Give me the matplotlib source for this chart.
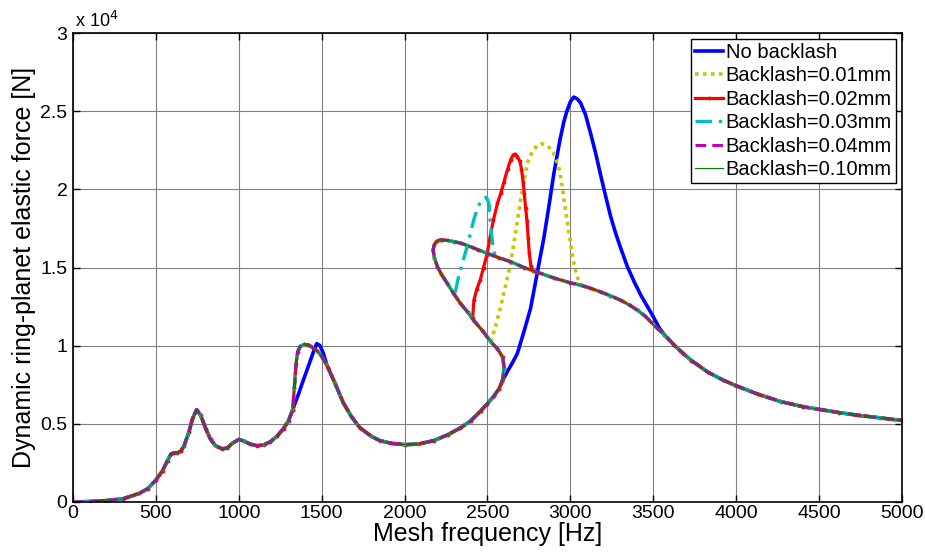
import numpy as np
import matplotlib
matplotlib.use("Agg")
import matplotlib.pyplot as plt

plt.rcParams['font.family'] = ['Liberation Sans', 'DejaVu Sans']

# ---- response data: mesh frequency [Hz] vs. dynamic force [N] ----
# low-frequency part shared by every case
freq_low = [0, 100, 200, 300, 400, 450, 500, 540, 570, 590, 610, 630, 650, 670,
            700, 720, 745, 770, 800, 830, 860, 900, 930, 960, 1000, 1030, 1070,
            1110, 1150, 1190, 1230, 1270, 1300, 1325]
force_low = [0, 30, 90, 200, 550, 850, 1400, 2000, 2650, 3050, 3150, 3150, 3250, 3600,
             4500, 5300, 5900, 5550, 4700, 4000, 3600, 3400, 3450, 3750, 4000, 3900, 3700,
             3600, 3650, 3850, 4200, 4700, 5200, 5900]

# second resonance, with backlash
freq_mid_bl = [1325, 1335, 1345, 1355, 1370, 1395, 1420, 1450, 1480, 1510, 1540]
force_mid_bl = [5900, 7300, 8800, 9600, 9950, 10080, 10050, 9850, 9600, 9150, 8550]

# second resonance, no backlash
freq_mid_nobl = [1325, 1360, 1388, 1420, 1450, 1470, 1490, 1510, 1530, 1540]
force_mid_nobl = [5900, 6900, 7760, 8700, 9600, 10130, 10000, 9500, 8800, 8550]

# valley up to the fold
freq_valley = [1540, 1580, 1630, 1680, 1730, 1800, 1850, 1920, 2000, 2080, 2176,
               2260, 2337, 2400, 2458, 2500, 2539, 2570, 2590]
force_valley = [8550, 7600, 6350, 5450, 4750, 4200, 3930, 3750, 3670, 3700, 3925,
                4300, 4740, 5200, 5815, 6300, 6780, 7250, 7750]

# fold turning back to lower frequency (backlash cases)
freq_fold = [2590, 2600, 2592, 2560, 2520, 2470, 2418, 2380, 2337, 2298, 2256,
             2220, 2198, 2180, 2172, 2178, 2195, 2218]
force_fold = [7750, 8600, 9250, 9800, 10250, 10950, 11600, 12150, 12700, 13300, 14000,
              14600, 15055, 15600, 16100, 16450, 16700, 16770]

# upper branch
freq_upper_a = [2218, 2260, 2300, 2340, 2380, 2440, 2500, 2570, 2640, 2720, 2800,
                2900, 3000, 3061, 3120, 3182, 3240, 3304, 3360, 3405, 3450, 3486, 3520]
force_upper_a = [16770, 16730, 16650, 16550, 16400, 16150, 15900, 15620, 15370, 15000, 14700,
                 14330, 14020, 13870, 13680, 13440, 13200, 12900, 12580, 12260, 11900, 11510, 11150]
freq_upper_b = [3567, 3627, 3680, 3730, 3830, 3920, 4000, 4130, 4270,
                4400, 4500, 4620, 4740, 4870, 5000]
force_upper_b = [10700, 10020, 9500, 9050, 8300, 7800, 7435, 6900, 6420,
                 6100, 5925, 5720, 5540, 5380, 5215]

# main resonance without backlash
freq_peak_nobl = [2590, 2620, 2650, 2680, 2720, 2760, 2800, 2840, 2870, 2900, 2937,
                  2960, 2978, 3000, 3020, 3040, 3061, 3091, 3121, 3152, 3182, 3213,
                  3243, 3273, 3304, 3344, 3385, 3425, 3466, 3500, 3535]
force_peak_nobl = [7750, 8350, 8900, 9500, 10900, 12400, 14650, 16900, 18900, 21000, 23160,
                   24300, 24980, 25600, 25900, 25800, 25535, 24785, 23610, 22325, 20930, 19540,
                   18255, 17185, 16220, 15045, 14080, 13225, 12475, 11850, 11150]

# jump branches for each backlash value
freq_b01 = [2520, 2550, 2580, 2610, 2640, 2670, 2700, 2725, 2745, 2770, 2800, 2827,
            2860, 2893, 2915, 2935, 2950, 2965, 2980, 2995, 3010, 3025, 3045, 3070]
force_b01 = [10250, 11300, 12500, 13900, 15270, 17300, 19300, 20800, 21800, 22400, 22800, 22920,
             22800, 22450, 21900, 21200, 20200, 19100, 18000, 16990, 15900, 15050, 14300, 13830]

freq_b02 = [2410, 2418, 2435, 2456, 2476, 2496, 2515, 2536, 2560, 2581, 2600, 2621,
            2640, 2655, 2668, 2680, 2695, 2705, 2715, 2722, 2730, 2738, 2745, 2752,
            2762, 2775, 2792]
force_b02 = [11750, 12900, 13600, 14200, 15000, 15800, 16900, 18050, 19100, 19785, 20500, 21290,
             21900, 22200, 22250, 22100, 21800, 21300, 20500, 19700, 18800, 18000, 16900, 15900,
             15100, 14780, 14700]

freq_b03 = [2305, 2320, 2337, 2357, 2377, 2397, 2417, 2440, 2460, 2478, 2490, 2500,
            2510, 2516, 2522, 2530, 2540, 2546]
force_b03 = [13400, 14150, 14830, 15600, 16330, 17200, 18050, 18800, 19250, 19450, 19480, 19350,
             19000, 18050, 17400, 16600, 16000, 15770]

labels = ['No backlash', 'Backlash=0.01mm', 'Backlash=0.02mm',
          'Backlash=0.03mm', 'Backlash=0.04mm', 'Backlash=0.10mm']
yticks = [0, 5000, 10000, 15000, 20000, 25000, 30000]
ytick_labels = ['0', '0.5', '1', '1.5', '2', '2.5', '3']
xticks = [0, 500, 1000, 1500, 2000, 2500, 3000, 3500, 4000, 4500, 5000]


def join(*segs):
    """Concatenate (freq, force) segments; None inserts a break."""
    xs, ys = [], []
    for s in segs:
        if s is None:
            xs.append([np.nan]); ys.append([np.nan])
        else:
            xs.append(np.asarray(s[0], float)); ys.append(np.asarray(s[1], float))
    return np.concatenate(xs), np.concatenate(ys)


low = (freq_low, force_low)
mid_bl = (freq_mid_bl, force_mid_bl)
mid_nobl = (freq_mid_nobl, force_mid_nobl)
valley = (freq_valley, force_valley)
fold = (freq_fold, force_fold)
up_a = (freq_upper_a, force_upper_a)
up_b = (freq_upper_b, force_upper_b)
common = [low, mid_bl, valley, fold, up_a, up_b]

curves = [
    join(low, mid_nobl, valley, (freq_peak_nobl, force_peak_nobl), up_b),
    join(*common, None, (freq_b01, force_b01)),
    join(*common, None, (freq_b02, force_b02)),
    join(*common, None, (freq_b03, force_b03)),
    join(*common),
    join(*common),
]

styles = [
    dict(color=(0, 0, 1), lw=2.6, ls='-'),
    dict(color=(0.78, 0.78, 0), lw=2.6, ls=(0, (1, 1.2))),
    dict(color=(1, 0, 0), lw=2.3, ls='-', marker='.', ms=3.5),
    dict(color=(0, 0.75, 0.75), lw=2.4, ls=(0, (5, 2, 1, 2))),
    dict(color=(0.75, 0, 0.75), lw=2.2, ls=(0, (3.5, 2))),
    dict(color=(0, 0.5, 0), lw=0.8, ls='-'),
]

fig = plt.figure(figsize=(9.25, 5.54), dpi=100)
ax = fig.add_axes([73 / 925, 1 - 502 / 554, 829 / 925, 469 / 554])

for (x, y), st, lab in zip(curves, styles, labels):
    ax.plot(x, y, label=lab, solid_joinstyle='round', **st)

ax.set_xlim(0, 5000)
ax.set_ylim(0, 30000)
ax.set_xticks(xticks)
ax.set_xticklabels([str(t) for t in xticks])
ax.set_yticks(yticks)
ax.set_yticklabels(ytick_labels)
ax.grid(True, color='0.5', lw=0.8)
ax.set_axisbelow(True)
ax.tick_params(direction='in', top=True, right=True, length=5, width=1,
               labelsize=14, pad=2)
ax.tick_params(axis='y', pad=4)
for sp in ax.spines.values():
    sp.set_linewidth(1.2)

ax.set_xlabel('Mesh frequency [Hz]', fontsize=18, labelpad=0)
ax.set_ylabel('Dynamic ring-planet elastic force [N]', fontsize=18, labelpad=3)
ax.text(0.003, 1.004, r'x 10$^4$', transform=ax.transAxes, fontsize=13,
        ha='left', va='bottom')

leg = ax.legend(loc='upper right', fontsize=14.5, frameon=True, fancybox=False,
                edgecolor='black', framealpha=1, borderpad=0.2, labelspacing=0.22,
                handlelength=1.35, handletextpad=0.15, borderaxespad=0.3)
leg.get_frame().set_linewidth(1.0)

fig.savefig('out.png', dpi=100)
